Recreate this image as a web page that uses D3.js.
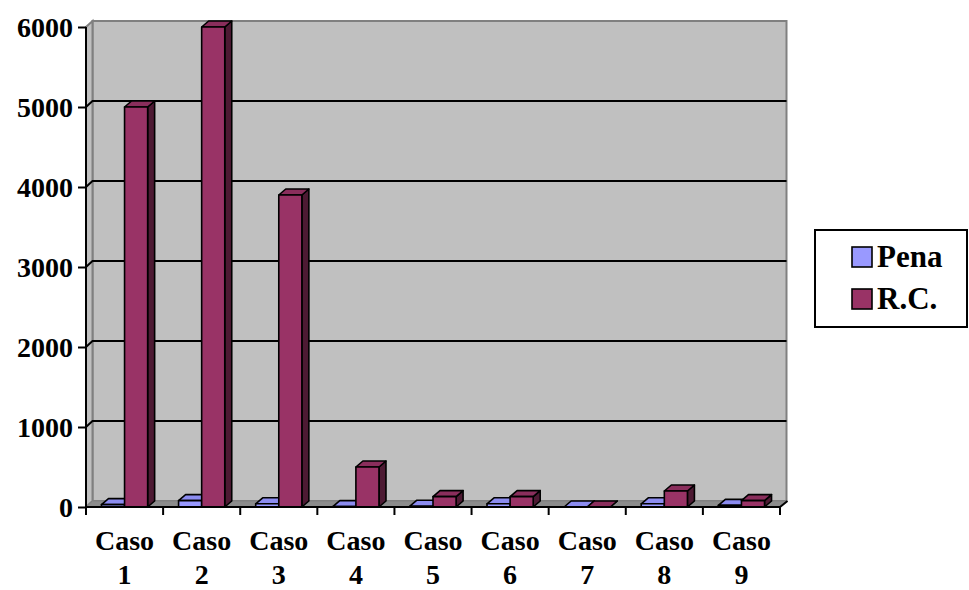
<!DOCTYPE html>
<html><head><meta charset="utf-8">
<script src="https://cdn.jsdelivr.net/npm/d3@7"></script>
<style>body{margin:0;background:#fff}svg{display:block}
text{font-family:"Liberation Serif","Times New Roman",Times,serif;font-weight:bold;font-size:28px;fill:#000}
.lg text{font-size:31px}</style>
</head><body>
<svg id="c" width="969" height="590"></svg>
<script>
const categories = ["Caso 1","Caso 2","Caso 3","Caso 4","Caso 5","Caso 6","Caso 7","Caso 8","Caso 9"];
const seriesNames = ["Pena","R.C."];
const penaValues = [30, 80, 40, 5, 10, 40, 0, 40, 20];
const rcValues = [5000, 6000, 3900, 500, 130, 130, 0, 200, 80];
const yTicks = [0,1000,2000,3000,4000,5000,6000];
const colors = {front:["#9999ff","#993366"], top:["#8c8cf0","#8a2e5c"], side:["#4d4d80","#4d1a33"]};

const svg = d3.select("#c");
const x0 = 86, x1 = 780, yBase = 507;
const wdx = 6.5, wdy = -6;   // wall depth offset
const bdx = 7, bdy = -6;     // bar depth offset
const y = d3.scaleLinear().domain([0,6000]).range([yBase,27]);
const x = d3.scaleBand().domain(categories).range([x0,x1]).padding(0);
const xs = d3.scaleBand().domain(seriesNames).range([0,x.bandwidth()]).paddingOuter(0.67).paddingInner(0);

const yTop = y(6000);
svg.append("rect").attr("x",x0+wdx).attr("y",yTop+wdy).attr("width",x1-x0).attr("height",yBase-yTop)
  .attr("fill","#c0c0c0").attr("stroke","#808080").attr("stroke-width",2);
svg.append("path").attr("d",`M${x0},${yBase}L${x0},${yTop}L${x0+wdx},${yTop+wdy}L${x0+wdx},${yBase+wdy}Z`)
  .attr("fill","#c0c0c0").attr("stroke","#808080").attr("stroke-width",2);
svg.append("path").attr("d",`M${x0},${yBase}L${x0+wdx},${yBase+wdy}L${x1+wdx},${yBase+wdy}L${x1},${yBase}Z`)
  .attr("fill","#8c8c8c").attr("stroke","#808080").attr("stroke-width",1);
yTicks.filter(t=>t>0 && t<6000).forEach(t=>{
  svg.append("path").attr("d",`M${x0},${y(t)}L${x0+wdx},${y(t)+wdy}L${x1+wdx},${y(t)+wdy}`)
    .attr("fill","none").attr("stroke","#000").attr("stroke-width",2);
});

const series = [penaValues, rcValues];
categories.forEach((c,i)=>{
  series.forEach((vals,s)=>{
    const v = vals[i];
    const bx = x(c)+xs(seriesNames[s]), bw = xs.bandwidth();
    const yt = y(v);
    const g = svg.append("g").attr("stroke","#000").attr("stroke-width",1.6).attr("stroke-linejoin","round");
    g.append("path").attr("d",`M${bx+bw},${yBase}L${bx+bw+bdx},${yBase+bdy}L${bx+bw+bdx},${yt+bdy}L${bx+bw},${yt}Z`).attr("fill",colors.side[s]);
    g.append("path").attr("d",`M${bx},${yt}L${bx+bdx},${yt+bdy}L${bx+bw+bdx},${yt+bdy}L${bx+bw},${yt}Z`).attr("fill",colors.top[s]);
    g.append("rect").attr("x",bx).attr("y",yt).attr("width",bw).attr("height",yBase-yt).attr("fill",colors.front[s]);
  });
});

const yAxis = svg.append("g").attr("transform",`translate(${x0},0)`)
  .call(d3.axisLeft(y).tickValues(yTicks).tickSize(8).tickPadding(5).tickFormat(d3.format("d")));
yAxis.attr("font-family",null).attr("font-size",null);
yAxis.select(".domain").attr("stroke","#000").attr("stroke-width",2).attr("d",`M0,${yBase}V${yTop}`);
yAxis.selectAll(".tick line").attr("stroke","#000").attr("stroke-width",2);
yAxis.selectAll("text").attr("fill",null).attr("dy","0.34em");

const xAxis = svg.append("g").attr("transform",`translate(0,${yBase})`);
xAxis.append("path").attr("d",`M${x0},0H${x1}L${x1+wdx+1},${wdy}`).attr("fill","none").attr("stroke","#000").attr("stroke-width",2);
const bounds = categories.map(c=>x(c)).concat([x1]);
xAxis.selectAll("line.t").data(bounds).join("line").attr("x1",d=>d).attr("x2",d=>d).attr("y1",0).attr("y2",8)
  .attr("stroke","#000").attr("stroke-width",2);
categories.forEach(c=>{
  const parts = c.split(" ");
  const cx = x(c)+x.bandwidth()/2;
  const t = xAxis.append("text").attr("x",cx).attr("text-anchor","middle");
  t.append("tspan").attr("x",cx).attr("y",42.5).text(parts[0]);
  t.append("tspan").attr("x",cx).attr("y",76.5).text(parts[1]);
});

const lg = svg.append("g").attr("class","lg").attr("transform","translate(815,230)");
lg.append("rect").attr("width",152).attr("height",97).attr("fill","#fff").attr("stroke","#000").attr("stroke-width",2);
seriesNames.forEach((n,i)=>{
  lg.append("rect").attr("x",37).attr("y",17+i*42).attr("width",20).attr("height",20)
    .attr("fill",colors.front[i]).attr("stroke","#000").attr("stroke-width",1.6);
  lg.append("text").attr("x",62).attr("y",37+i*42).text(n);
});
</script>
</body></html>
